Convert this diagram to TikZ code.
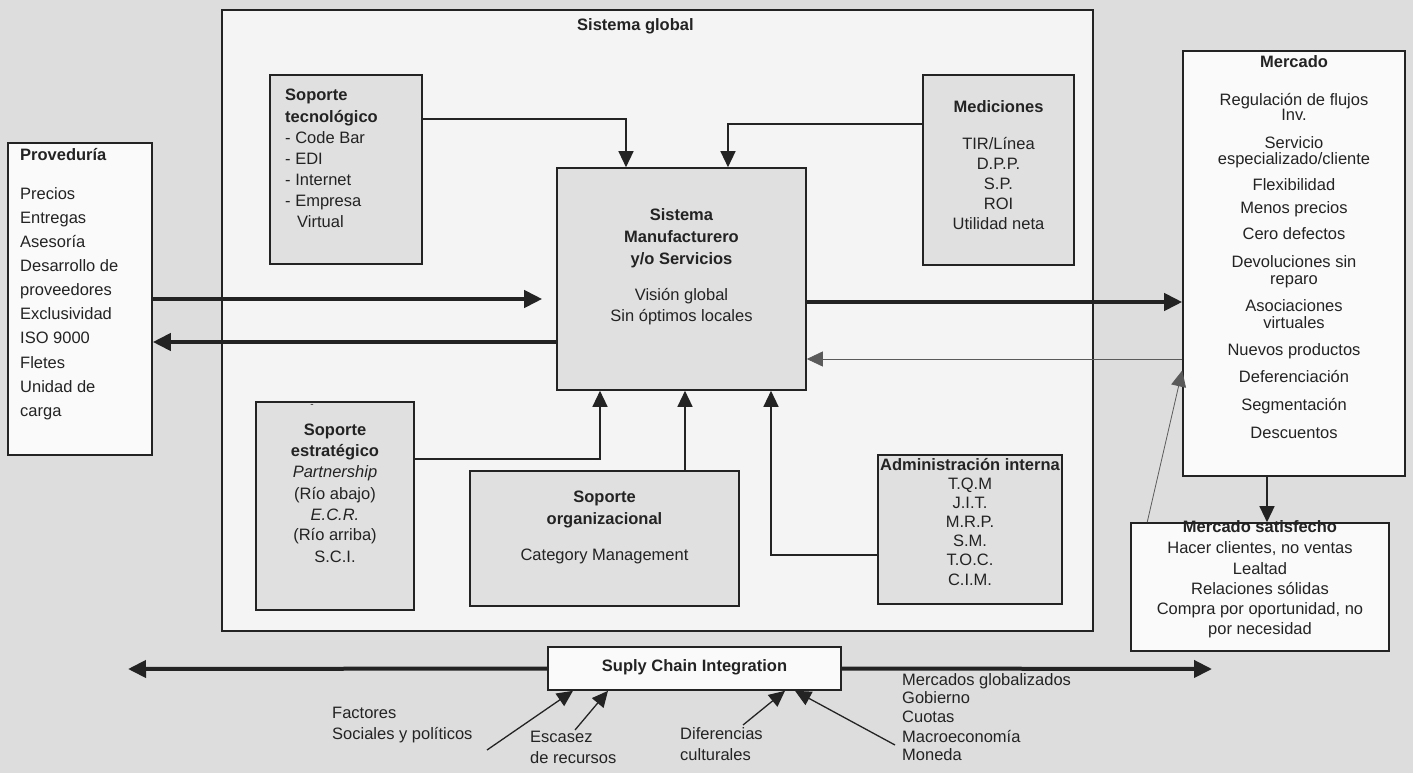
\documentclass[tikz,border=0pt]{standalone}
\usepackage{fontspec}
\setmainfont{Liberation Sans}
\usetikzlibrary{arrows.meta,calc}
\definecolor{bggray}{RGB}{221,221,221}
\definecolor{sysfill}{RGB}{244,244,244}
\definecolor{boxgray}{RGB}{224,224,224}
\definecolor{boxwhite}{RGB}{250,250,250}
\definecolor{ink}{RGB}{35,35,35}
\begin{document}
\begin{tikzpicture}[x=1pt,y=-1pt,
  box/.style={draw=ink, line width=1.6pt, inner sep=0pt, anchor=center},
  graybox/.style={box, fill=boxgray},
  whitebox/.style={box, fill=boxwhite},
  lbl/.style={inner sep=0pt, text=ink, font=\fontsize{16.5}{19}\selectfont},
  lw/.style={lbl, anchor=mid west},
  lc/.style={lbl, anchor=mid},
  thickarrow/.style={draw=ink, line width=4pt, -{Triangle[length=18pt,width=17pt]}},
  thinarrow/.style={draw=ink, line width=1.3pt, -{Triangle[length=16pt,width=15pt]}},
  faintarrow/.style={draw=ink!75, line width=0.8pt, -{Triangle[length=16pt,width=15pt]}},
]
\useasboundingbox (0,0) rectangle (1413,773);
\fill[bggray] (0,0) rectangle (1413,773);

% boxes
\node[box, fill=sysfill, minimum width=871pt, minimum height=621pt] (sys) at (657.5,320.5) {};
\node[whitebox, minimum width=144pt, minimum height=312pt] (prov) at (80,299) {};
\node[graybox, minimum width=152pt, minimum height=189pt] (tec) at (346,169.5) {};
\node[graybox, minimum width=151pt, minimum height=190pt] (med) at (998.5,170) {};
\node[graybox, minimum width=249pt, minimum height=222pt] (cen) at (681.5,279) {};
\node[graybox, minimum width=158pt, minimum height=208pt] (est) at (335,506) {};
\node[graybox, minimum width=269pt, minimum height=135pt] (org) at (604.5,538.5) {};
\node[graybox, minimum width=184pt, minimum height=149pt] (adm) at (970,529.5) {};
\node[whitebox, minimum width=222pt, minimum height=425pt] (mer) at (1294,263.5) {};
\node[whitebox, minimum width=258pt, minimum height=128pt] (sat) at (1260,587) {};
\node[whitebox, minimum width=293pt, minimum height=43pt] (sci) at (694.5,668.5) {};

% texts
\node[lw, font=\fontsize{16.5}{19}\selectfont\bfseries] (systitle) at (577,28) {Sistema global};

\foreach \y/\t [count=\i] in {158/{\textbf{Proveduría}}, 197/Precios, 221/Entregas, 245/Asesoría,
  269/{Desarrollo de}, 293/proveedores, 317/Exclusividad, 341/{ISO 9000}, 366/Fletes,
  390/{Unidad de}, 414/carga}
  \node[lw] (prov\i) at (20,\y) {\t};

\foreach \y/\t [count=\i] in {98/{\textbf{Soporte}}, 120/{\textbf{tecnológico}}, 141/{- Code Bar},
  162/{- EDI}, 183/{- Internet}, 204/{- Empresa}}
  \node[lw] (tec\i) at (285,\y) {\t};
\node[lw] (tec7) at (297,225) {Virtual};

\foreach \y/\t [count=\i] in {110/{\textbf{Mediciones}}, 147/{TIR/Línea}, 167/{D.P.P.},
  187/{S.P.}, 207/ROI, 227/{Utilidad neta}}
  \node[lc] (med\i) at (998.5,\y) {\t};

\foreach \y/\t [count=\i] in {218/{\textbf{Sistema}}, 240/{\textbf{Manufacturero}},
  262/{\textbf{y/o Servicios}}, 298/{Visión global}, 319/{Sin óptimos locales}}
  \node[lc] (cen\i) at (681.5,\y) {\t};

\node[lbl, font=\fontsize{10}{10}\selectfont] (estdash) at (312,406) {-};
\foreach \y/\t [count=\i] in {433/{\textbf{Soporte}}, 454/{\textbf{estratégico}},
  475/{\textit{Partnership}}, 497/{(Río abajo)}, 518/{\textit{E.C.R.}}, 538/{(Río arriba)}, 560/{S.C.I.}}
  \node[lc] (est\i) at (335,\y) {\t};

\foreach \y/\t [count=\i] in {500/{\textbf{Soporte}}, 522/{\textbf{organizacional}},
  558/{Category Management}}
  \node[lc] (org\i) at (604.5,\y) {\t};

\foreach \y/\t [count=\i] in {468/{\textbf{Administración interna}}, 487/{T.Q.M}, 506/{J.I.T.},
  525/{M.R.P.}, 544/{S.M.}, 563/{T.O.C.}, 583/{C.I.M.}}
  \node[lc] (adm\i) at (970,\y) {\t};

\foreach \y/\t [count=\i] in {65/{\textbf{Mercado}}, 103/{Regulación de flujos}, 118/{Inv.},
  146/Servicio, 162/{especializado/cliente}, 188/Flexibilidad, 211/{Menos precios},
  237/{Cero defectos}, 265/{Devoluciones sin}, 282/reparo, 309/Asociaciones, 326/virtuales,
  353/{Nuevos productos}, 380/Deferenciación, 408/Segmentación, 436/Descuentos}
  \node[lc] (mer\i) at (1294,\y) {\t};

\foreach \y/\t [count=\i] in {530/{\textbf{Mercado satisfecho}}, 551/{Hacer clientes, no ventas},
  572/Lealtad, 592/{Relaciones sólidas}, 612/{Compra por oportunidad, no}, 632/{por necesidad}}
  \node[lc] (sat\i) at (1260,\y) {\t};

\node[lc] (scitext) at (694.5,669) {\textbf{Suply Chain Integration}};

\node[lw] (fac1) at (332,716) {Factores};
\node[lw] (fac2) at (332,737) {Sociales y políticos};
\node[lw] (esc1) at (530,740) {Escasez};
\node[lw] (esc2) at (530,761) {de recursos};
\node[lw] (dif1) at (680,737) {Diferencias};
\node[lw] (dif2) at (680,758) {culturales};
\foreach \y/\t [count=\i] in {683/{Mercados globalizados}, 701/Gobierno, 720/Cuotas,
  740/Macroeconomía, 758/Moneda}
  \node[lw] (mg\i) at (902,\y) {\t};

% connectors
\draw[thickarrow, shorten >=14pt] (prov.east) -- (prov.east -| cen.west);
\draw[thickarrow] ([yshift=-43pt]prov.east -| cen.west) -- ([yshift=-43pt]prov.east);
\draw[thickarrow] ([yshift=-23pt]cen.east) -- ([yshift=-23pt]cen.east -| mer.west);
\draw[faintarrow] ([yshift=-80pt]cen.east -| mer.west) -- ([yshift=-80pt]cen.east);
\draw[faintarrow] ([xshift=17pt]sat.north west) -- ([yshift=-107pt]mer.west);
\draw[thinarrow] ([xshift=-27pt]mer.south) -- ([xshift=-27pt]mer.south |- sat.north);
\draw[thinarrow] ([yshift=50.5pt]tec.east) -| ([xshift=-55.5pt]cen.north);
\draw[thinarrow] ([yshift=46pt]med.west) -| ([xshift=46.5pt]cen.north);
\draw[thinarrow] ([yshift=47pt]est.east) -| ([xshift=-81.5pt]cen.south);
\draw[thinarrow] ([xshift=80.5pt]org.north) -- ([xshift=80.5pt]org.north |- cen.south);
\draw[thinarrow] ([yshift=-25.5pt]adm.west) -| ([xshift=89.5pt]cen.south);

\coordinate (leftend) at (128,669);
\coordinate (rightend) at (1212,669);
\draw[thickarrow] (sci.west) -- (leftend);
\draw[thickarrow] (sci.east) -- (rightend);

\coordinate (ta) at (487,750);
\coordinate (tb) at (575,730);
\coordinate (tc) at (743,725);
\coordinate (td) at (895,745);
\draw[thinarrow] (ta) -- ([xshift=-121.5pt]sci.south);
\draw[thinarrow] (tb) -- ([xshift=-86.5pt]sci.south);
\draw[thinarrow] (tc) -- ([xshift=90.5pt]sci.south);
\draw[thinarrow] (td) -- ([xshift=100.5pt]sci.south);
\end{tikzpicture}
\end{document}
